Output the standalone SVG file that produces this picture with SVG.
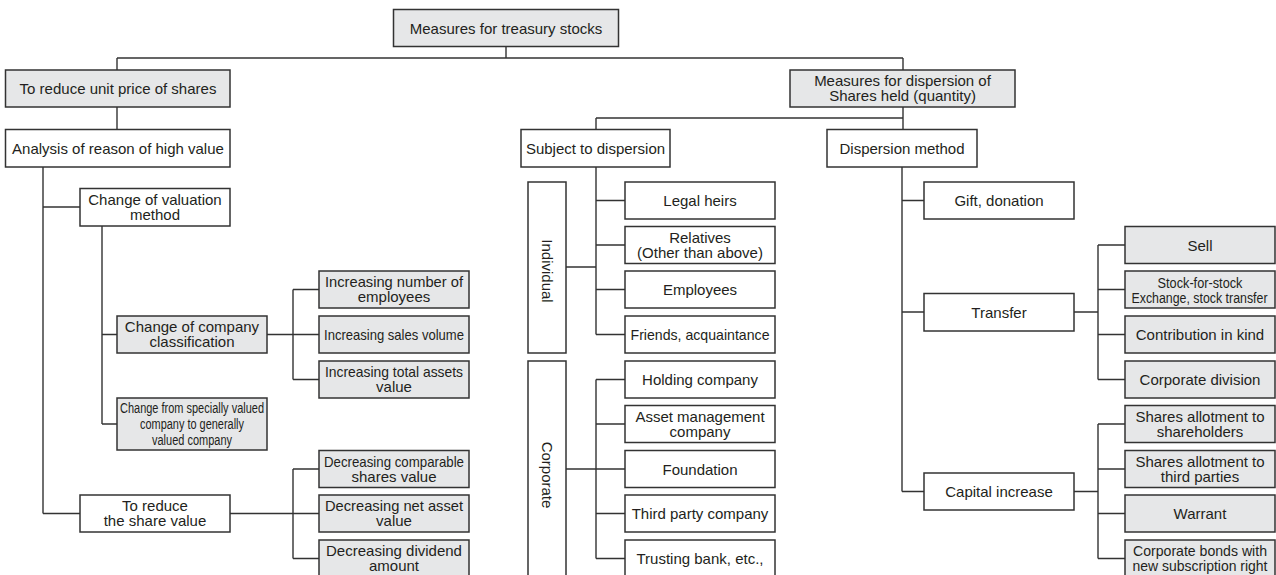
<svg xmlns="http://www.w3.org/2000/svg" width="1276" height="575" viewBox="0 0 1276 575">
  <style>
    .g { fill: #e6e7e8; stroke: #333333; stroke-width: 1.5; }
    .w { fill: #ffffff; stroke: #333333; stroke-width: 1.5; }
    .ln { fill: none; stroke: #333333; stroke-width: 1.4; }
    text { font-family: "Liberation Sans", Arial, sans-serif; font-size: 15px; fill: #231f20; text-anchor: middle; }
    .s { font-size: 14px; }
  </style>
  <rect width="1276" height="575" fill="#ffffff"/>

  <!-- connectors -->
  <g id="connectors" class="ln">
    <path d="M506 46.5V58M117 58H903M117 58V70M903 58V70"/>
    <path d="M117 107V129.5"/>
    <path d="M903 107V129.5M596 118H903M596 118V129.5"/>
    <!-- left branch -->
    <path d="M43 167V513.5M43 207H80M43 513.5H80"/>
    <path d="M102 226V424M102 334.5H117M102 424H117"/>
    <path d="M267 334.5H293M293 289.5V379.5M293 289.5H319M293 334.5H319M293 379.5H319"/>
    <path d="M230 513.5H293M293 469V558.5M293 469H319M293 513.5H319M293 558.5H319"/>
    <!-- subject to dispersion -->
    <path d="M596 167V334.5M596 200.5H625M596 245H625M596 289.5H625M596 334.5H625M566 267H596"/>
    <path d="M596 379.5V558.5M596 379.5H625M596 424H625M596 469H625M596 513.5H625M596 558.5H625M566 469H596"/>
    <!-- dispersion method -->
    <path d="M902 167V491.5M902 200.5H924M902 312H924M902 491.5H924"/>
    <path d="M1074 312H1098M1098 245V379.5M1098 245H1125M1098 289.5H1125M1098 334.5H1125M1098 379.5H1125"/>
    <path d="M1074 491.5H1098M1098 424V558.5M1098 424H1125M1098 469H1125M1098 513.5H1125M1098 558.5H1125"/>
  </g>

  <!-- root -->
  <g id="n-root">
    <rect class="g" x="393.5" y="9.5" width="225" height="37"/>
    <text x="506" y="33.5">Measures for treasury stocks</text>
  </g>

  <!-- left side -->
  <g id="n-unit-price">
    <rect class="g" x="5.5" y="70" width="224.5" height="37"/>
    <text x="118" y="94">To reduce unit price of shares</text>
  </g>
  <g id="n-analysis">
    <rect class="w" x="5.5" y="129.5" width="224.5" height="37.5"/>
    <text x="118" y="153.5">Analysis of reason of high value</text>
  </g>
  <g id="n-valuation-method">
    <rect class="w" x="80" y="188.5" width="150" height="37.5"/>
    <text x="155" y="205">Change of valuation</text>
    <text x="155" y="220">method</text>
  </g>
  <g id="n-company-class">
    <rect class="g" x="117" y="316" width="150" height="37"/>
    <text x="192" y="332">Change of company</text>
    <text x="192" y="347">classification</text>
  </g>
  <g id="n-special-to-general">
    <rect class="g" x="117" y="398" width="150" height="52"/>
    <text class="s" x="192" y="412.5" textLength="144" lengthAdjust="spacingAndGlyphs">Change from specially valued</text>
    <text class="s" x="192" y="428.5" textLength="104" lengthAdjust="spacingAndGlyphs">company to generally</text>
    <text class="s" x="192" y="444.5" textLength="80" lengthAdjust="spacingAndGlyphs">valued company</text>
  </g>
  <g id="n-reduce-share">
    <rect class="w" x="80" y="495" width="150" height="37"/>
    <text x="155" y="511">To reduce</text>
    <text x="155" y="526">the share value</text>
  </g>
  <g id="n-inc-employees">
    <rect class="g" x="319" y="271" width="150" height="37"/>
    <text x="394" y="287" textLength="138" lengthAdjust="spacingAndGlyphs">Increasing number of</text>
    <text x="394" y="302">employees</text>
  </g>
  <g id="n-inc-sales">
    <rect class="g" x="319" y="316" width="150" height="37"/>
    <text x="394" y="340" textLength="140" lengthAdjust="spacingAndGlyphs">Increasing sales volume</text>
  </g>
  <g id="n-inc-assets">
    <rect class="g" x="319" y="361" width="150" height="37"/>
    <text x="394" y="377" textLength="138" lengthAdjust="spacingAndGlyphs">Increasing total assets</text>
    <text x="394" y="392">value</text>
  </g>
  <g id="n-dec-comparable">
    <rect class="g" x="319" y="450.5" width="150" height="37"/>
    <text x="394" y="466.5" textLength="140" lengthAdjust="spacingAndGlyphs">Decreasing comparable</text>
    <text x="394" y="481.5">shares value</text>
  </g>
  <g id="n-dec-net-asset">
    <rect class="g" x="319" y="495" width="150" height="37"/>
    <text x="394" y="511" textLength="138" lengthAdjust="spacingAndGlyphs">Decreasing net asset</text>
    <text x="394" y="526">value</text>
  </g>
  <g id="n-dec-dividend">
    <rect class="g" x="319" y="540" width="150" height="37"/>
    <text x="394" y="556">Decreasing dividend</text>
    <text x="394" y="571">amount</text>
  </g>

  <!-- right side -->
  <g id="n-dispersion">
    <rect class="g" x="790" y="70" width="225" height="37"/>
    <text x="902.5" y="86">Measures for dispersion of</text>
    <text x="902.5" y="101">Shares held (quantity)</text>
  </g>
  <g id="n-subject">
    <rect class="w" x="521" y="129.5" width="149" height="37.5"/>
    <text x="595.5" y="153.5">Subject to dispersion</text>
  </g>
  <g id="n-method">
    <rect class="w" x="827" y="129.5" width="150" height="37.5"/>
    <text x="902" y="153.5">Dispersion method</text>
  </g>

  <g id="n-individual">
    <rect class="w" x="528" y="182" width="38" height="171"/>
    <text x="547" y="276" transform="rotate(90 547 271)">Individual</text>
  </g>
  <g id="n-corporate">
    <rect class="w" x="528" y="361" width="38" height="230"/>
    <text x="547" y="480" transform="rotate(90 547 475)">Corporate</text>
  </g>

  <g id="n-legal-heirs">
    <rect class="w" x="625" y="182" width="150" height="37"/>
    <text x="700" y="206">Legal heirs</text>
  </g>
  <g id="n-relatives">
    <rect class="w" x="625" y="226.5" width="150" height="37"/>
    <text x="700" y="242.5">Relatives</text>
    <text x="700" y="257.5">(Other than above)</text>
  </g>
  <g id="n-employees">
    <rect class="w" x="625" y="271" width="150" height="37"/>
    <text x="700" y="295">Employees</text>
  </g>
  <g id="n-friends">
    <rect class="w" x="625" y="316" width="150" height="37"/>
    <text x="700" y="340" textLength="139" lengthAdjust="spacingAndGlyphs">Friends, acquaintance</text>
  </g>
  <g id="n-holding">
    <rect class="w" x="625" y="361" width="150" height="37"/>
    <text x="700" y="385">Holding company</text>
  </g>
  <g id="n-asset-mgmt">
    <rect class="w" x="625" y="405.5" width="150" height="37"/>
    <text x="700" y="421.5">Asset management</text>
    <text x="700" y="436.5">company</text>
  </g>
  <g id="n-foundation">
    <rect class="w" x="625" y="450.5" width="150" height="37"/>
    <text x="700" y="474.5">Foundation</text>
  </g>
  <g id="n-third-party">
    <rect class="w" x="625" y="495" width="150" height="37"/>
    <text x="700" y="519">Third party company</text>
  </g>
  <g id="n-trust-bank">
    <rect class="w" x="625" y="540" width="150" height="37"/>
    <text x="700" y="564">Trusting bank, etc.,</text>
  </g>

  <g id="n-gift">
    <rect class="w" x="924" y="182" width="150" height="37"/>
    <text x="999" y="206">Gift, donation</text>
  </g>
  <g id="n-transfer">
    <rect class="w" x="924" y="293.5" width="150" height="37.5"/>
    <text x="999" y="317.5">Transfer</text>
  </g>
  <g id="n-capital">
    <rect class="w" x="924" y="473" width="150" height="37"/>
    <text x="999" y="497">Capital increase</text>
  </g>

  <g id="n-sell">
    <rect class="g" x="1125" y="226.5" width="150" height="37"/>
    <text x="1200" y="250.5">Sell</text>
  </g>
  <g id="n-stock-exchange">
    <rect class="g" x="1125" y="271" width="150" height="37"/>
    <text class="s" x="1200" y="287.5" textLength="85" lengthAdjust="spacingAndGlyphs">Stock-for-stock</text>
    <text class="s" x="1199.5" y="302.5" textLength="136" lengthAdjust="spacingAndGlyphs">Exchange, stock transfer</text>
  </g>
  <g id="n-contribution">
    <rect class="g" x="1125" y="316" width="150" height="37"/>
    <text x="1200" y="340">Contribution in kind</text>
  </g>
  <g id="n-division">
    <rect class="g" x="1125" y="361" width="150" height="37"/>
    <text x="1200" y="385">Corporate division</text>
  </g>
  <g id="n-allot-holders">
    <rect class="g" x="1125" y="405.5" width="150" height="37"/>
    <text x="1200" y="421.5">Shares allotment to</text>
    <text x="1200" y="436.5">shareholders</text>
  </g>
  <g id="n-allot-third">
    <rect class="g" x="1125" y="450.5" width="150" height="37"/>
    <text x="1200" y="466.5">Shares allotment to</text>
    <text x="1200" y="481.5">third parties</text>
  </g>
  <g id="n-warrant">
    <rect class="g" x="1125" y="495" width="150" height="37"/>
    <text x="1200" y="519">Warrant</text>
  </g>
  <g id="n-bonds">
    <rect class="g" x="1125" y="540" width="150" height="37"/>
    <text x="1200" y="556" textLength="134" lengthAdjust="spacingAndGlyphs">Corporate bonds with</text>
    <text x="1200" y="571" textLength="135" lengthAdjust="spacingAndGlyphs">new subscription right</text>
  </g>
</svg>
